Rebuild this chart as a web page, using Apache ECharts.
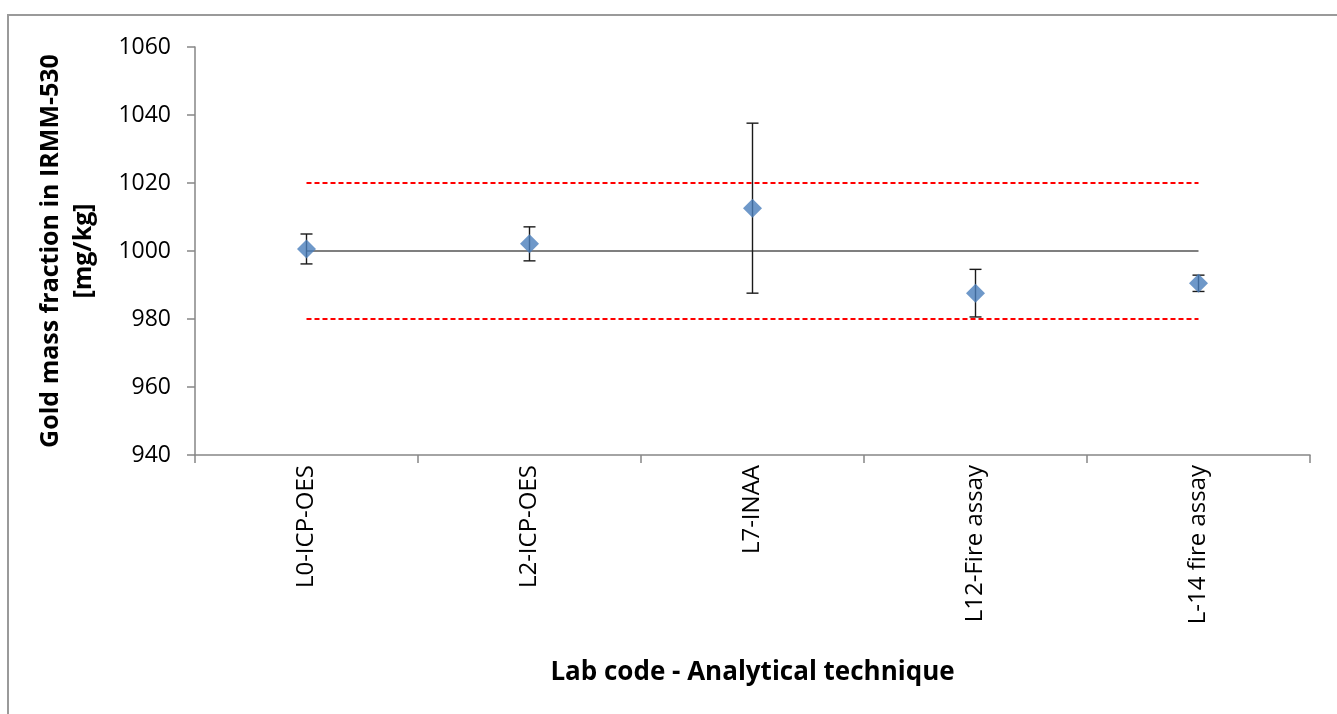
<!DOCTYPE html>
<html>
<head>
<meta charset="utf-8">
<script src="https://cdn.jsdelivr.net/npm/echarts@6/dist/echarts.min.js"></script>
<style>
  html, body { margin: 0; padding: 0; background: #fff; }
  #chart { width: 1337px; height: 714px; }
</style>
</head>
<body>
<div id="chart"></div>
<script>
// Lab results for gold mass fraction in IRMM-530
const labs = ['L0-ICP-OES', 'L2-ICP-OES', 'L7-INAA', 'L12-Fire assay', 'L-14 fire assay'];
const means = [1000.6, 1002.1, 1012.6, 987.6, 990.5];
const uncert = [4.4, 5.0, 25.0, 7.0, 2.4];
const refValue = [1000, 1000, 1000, 1000, 1000];
const upperLimit = [1020, 1020, 1020, 1020, 1020];
const lowerLimit = [980, 980, 980, 980, 980];
const yTicks = { min: 940, max: 1060, step: 20 };

const FONT = '"Open Sans", "Liberation Sans", sans-serif';

const errData = labs.map((_, i) => [i, means[i] - uncert[i], means[i] + uncert[i]]);

const chart = echarts.init(document.getElementById('chart'), null, { renderer: 'canvas' });

chart.setOption({
  animation: false,
  backgroundColor: '#fff',
  graphic: [{
    type: 'rect',
    shape: { x: 8, y: 15, width: 1340, height: 710 },
    style: { fill: 'none', stroke: '#9a9a9a', lineWidth: 2 },
    silent: true
  }],
  grid: { left: 195, right: 27, top: 47, bottom: 259 },
  xAxis: {
    type: 'category',
    data: labs,
    boundaryGap: true,
    name: 'Lab code - Analytical technique',
    nameLocation: 'middle',
    nameGap: 205,
    nameTextStyle: { fontFamily: FONT, fontWeight: 'bold', fontSize: 26, color: '#000' },
    axisLine: { lineStyle: { color: '#868686', width: 1.5 } },
    axisTick: { show: true, length: 8, lineStyle: { color: '#868686', width: 1.5 } },
    axisLabel: { rotate: 90, fontFamily: FONT, fontSize: 24, color: '#000', margin: 10 },
    splitLine: { show: false }
  },
  yAxis: {
    type: 'value',
    min: yTicks.min,
    max: yTicks.max,
    interval: yTicks.step,
    name: 'Gold mass fraction in IRMM-530\n[mg/kg]',
    nameLocation: 'middle',
    nameGap: 95,
    nameRotate: 90,
    nameTextStyle: { fontFamily: FONT, fontWeight: 'bold', fontSize: 25, color: '#000', lineHeight: 33 },
    axisLine: { show: true, lineStyle: { color: '#868686', width: 1.5 } },
    axisTick: { show: true, length: 8, lineStyle: { color: '#868686', width: 1.5 } },
    axisLabel: {
      fontFamily: FONT, fontSize: 23, color: '#000', margin: 24,
      formatter: function (v) { return String(v); }
    },
    splitLine: { show: false }
  },
  series: [
    {
      type: 'line',
      data: refValue,
      symbol: 'none',
      lineStyle: { color: '#000', width: 1.2 },
      z: 1
    },
    {
      type: 'line',
      data: upperLimit,
      symbol: 'none',
      lineStyle: { color: '#ff0000', width: 2, type: [5, 3] },
      z: 1
    },
    {
      type: 'line',
      data: lowerLimit,
      symbol: 'none',
      lineStyle: { color: '#ff0000', width: 2, type: [5, 3] },
      z: 1
    },
    {
      type: 'custom',
      data: errData,
      z: 2,
      renderItem: function (params, api) {
        const idx = api.value(0);
        const lo = api.coord([idx, api.value(1)]);
        const hi = api.coord([idx, api.value(2)]);
        const hw = 6;
        const style = { stroke: '#1a1a1a', lineWidth: 1.4 };
        return {
          type: 'group',
          children: [
            { type: 'line', shape: { x1: hi[0], y1: hi[1], x2: lo[0], y2: lo[1] }, style: style },
            { type: 'line', shape: { x1: hi[0] - hw, y1: hi[1], x2: hi[0] + hw, y2: hi[1] }, style: style },
            { type: 'line', shape: { x1: lo[0] - hw, y1: lo[1], x2: lo[0] + hw, y2: lo[1] }, style: style }
          ]
        };
      }
    },
    {
      type: 'scatter',
      data: means,
      symbol: 'diamond',
      symbolSize: [19, 19],
      itemStyle: { color: '#4a7ebb' },
      z: 3
    }
  ]
});
</script>
</body>
</html>
